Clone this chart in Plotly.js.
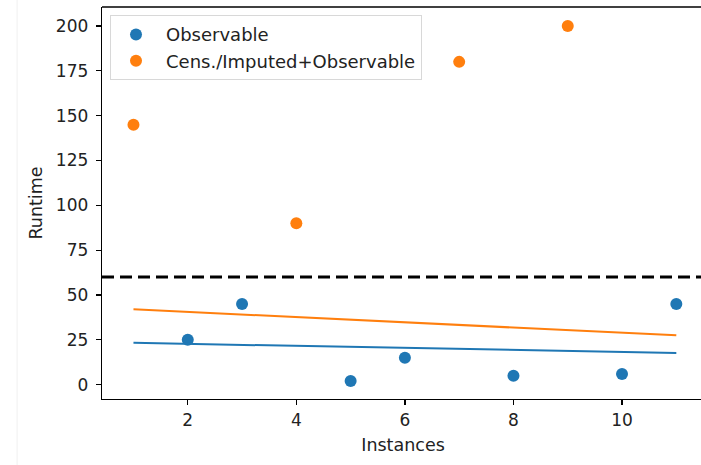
<!DOCTYPE html>
<html>
<head>
<meta charset="utf-8">
<script src="https://cdn.plot.ly/plotly-3.0.1.min.js"></script>
<style>
html,body{margin:0;padding:0;background:#fff;overflow:hidden;width:701px;height:465px;}
#chart{width:720px;height:465px;}
</style>
</head>
<body>
<div id="chart"></div>
<script>
// Data
const obsX = [2, 3, 5, 6, 8, 10, 11];
const obsY = [25, 45, 2, 15, 5, 6, 45];
const impX = [1, 4, 7, 9];
const impY = [145, 90, 180, 200];
const obsFitX = [1, 11];
const obsFitY = [23.3, 17.7];
const impFitX = [1, 11];
const impFitY = [42, 27.5];
const threshold = 60;
const xTicks = [2, 4, 6, 8, 10];
const yTicks = [0, 25, 50, 75, 100, 125, 150, 175, 200];

const blue = '#1f77b4', orange = '#ff7f0e';
const font = {family: 'DejaVu Sans, sans-serif', size: 17, color: '#222'};
const legendFont = {family: 'DejaVu Sans, sans-serif', size: 18, color: '#222'};
const titleFont = {family: 'DejaVu Sans, sans-serif', size: 17.5, color: '#222'};

const traces = [
  {x: obsX, y: obsY, type: 'scatter', mode: 'markers', name: 'Observable',
   marker: {color: blue, size: 12}},
  {x: impX, y: impY, type: 'scatter', mode: 'markers', name: 'Cens./Imputed+Observable',
   marker: {color: orange, size: 12}},
  {x: obsFitX, y: obsFitY, type: 'scatter', mode: 'lines', showlegend: false,
   line: {color: blue, width: 2}},
  {x: impFitX, y: impFitY, type: 'scatter', mode: 'lines', showlegend: false,
   line: {color: orange, width: 2}}
];

const layout = {
  width: 720, height: 465,
  margin: {l: 102, r: 16, t: 7, b: 66},
  paper_bgcolor: '#fff', plot_bgcolor: '#fff',
  font: font,
  showlegend: true,
  legend: {x: 0.0133, y: 0.979, xanchor: 'left', yanchor: 'top',
    bgcolor: 'rgba(255,255,255,0.8)', bordercolor: '#d8d8d8', borderwidth: 1,
    font: legendFont, itemsizing: 'constant', traceorder: 'normal',
    indentation: -5, itemwidth: 50},
  xaxis: {range: [0.42, 11.51], tickvals: xTicks, ticktext: xTicks.map(String),
    showgrid: false, zeroline: false, showline: true, linecolor: '#000', linewidth: 1.3,
    ticks: 'outside', ticklen: 5, tickwidth: 1.2, tickcolor: '#000',
    tickfont: font, title: {text: 'Instances', font: titleFont, standoff: 10}},
  yaxis: {range: [-8, 210.6], tickvals: yTicks, ticktext: yTicks.map(String),
    showgrid: false, zeroline: false, showline: true, linecolor: '#000', linewidth: 1.3,
    ticks: 'outside', ticklen: 5, tickwidth: 1.2, tickcolor: '#000', ticklabelstandoff: 4,
    tickfont: font, title: {text: 'Runtime', font: titleFont, standoff: 8}},
  shapes: [
    {type: 'line', xref: 'paper', x0: 0, x1: 1, yref: 'y', y0: threshold, y1: threshold,
     line: {color: '#000', width: 3, dash: '12px,6px'}},
    {type: 'line', xref: 'paper', x0: 0, x1: 1, yref: 'paper', y0: 1, y1: 1,
     line: {color: '#000', width: 1.3}},
    {type: 'line', xref: 'paper', x0: -0.141, x1: -0.141, yref: 'paper', y0: -0.2, y1: 1.05,
     line: {color: '#f0f0f0', width: 1}}
  ]
};

Plotly.newPlot('chart', traces, layout, {displayModeBar: false, staticPlot: true});
</script>
</body>
</html>
